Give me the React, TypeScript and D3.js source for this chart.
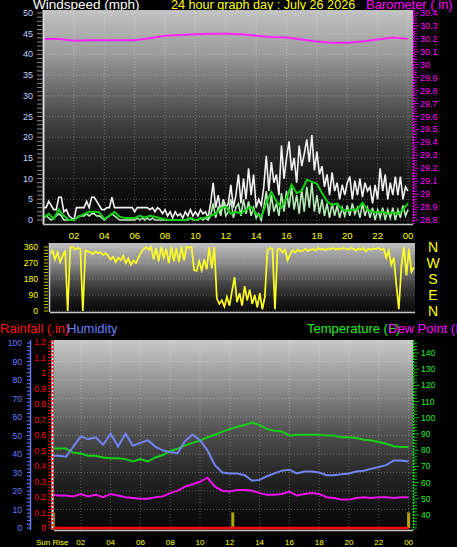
import React from "react";
import * as d3 from "d3";

const W = 457;
const H = 547;
const FONT = "'Liberation Sans', Arial, Helvetica, sans-serif";

// ---------- axis labels ----------
const hourTicks = [2, 4, 6, 8, 10, 12, 14, 16, 18, 20, 22, 24];
const hourLabels = ["02", "04", "06", "08", "10", "12", "14", "16", "18", "20", "22", "00"];
const windTicks = [0, 5, 10, 15, 20, 25, 30, 35, 40, 45, 50];
const baroTicks = [28.8, 28.9, 29, 29.1, 29.2, 29.3, 29.4, 29.5, 29.6, 29.7, 29.8, 29.9, 30, 30.1, 30.2, 30.3, 30.4];
const dirTicks = [0, 90, 180, 270, 360];
const compassLabels = ["N", "W", "S", "E", "N"];
const humTicks = [0, 10, 20, 30, 40, 50, 60, 70, 80, 90, 100];
const rainTicks = [0, 0.1, 0.2, 0.3, 0.4, 0.5, 0.6, 0.7, 0.8, 0.9, 1, 1.1, 1.2];
const tempTicks = [40, 50, 60, 70, 80, 90, 100, 110, 120, 130, 140];

// ---------- series (evenly spaced over 24 h) ----------
// wind gust, 10-minute samples
const gust = [
  3, 3, 4.5, 3.5, 2.5, 2.5, 5.5, 5.5, 2, 2.5, 1, 0.5,
  0, 3, 3, 3, 3, 4.5, 3, 5.5, 5.5, 4.5, 3.5, 2.5,
  2.5, 3, 3, 5.5, 3, 3, 3, 3, 3, 3, 3, 3,
  2, 3, 3, 3, 3, 3, 2.5, 3, 2, 3, 2.5, 1.5,
  2.5, 1, 2, 0.5, 2, 1, 1.5, 0.5, 2, 1, 2.5, 1,
  2, 1, 2.5, 1.5, 2, 0.5, 4, 9, 3, 6, 2, 5,
  3, 4, 8.5, 3, 6, 11, 4, 10, 5, 12.5, 6, 11,
  3, 5, 3.5, 8, 15.5, 7, 14, 9, 11, 6, 18, 10,
  15, 19, 12, 15, 9, 18, 13, 16, 19.5, 14, 20.5, 12,
  16.5, 11, 13, 8, 11, 6, 11.5, 7, 9, 5, 8.5, 6,
  9, 10.5, 5, 9.5, 6, 10, 5.5, 9, 7, 8, 4, 8.5,
  5, 12.5, 7, 11, 5, 9, 6, 10.5, 6, 10.5, 5, 8,
  7,
];
// wind speed, 10-minute samples
const speed = [
  0.5, 1, 0.5, 0, 0.5, 1, 1.5, 1, 0, 0, 0, 0,
  0, 0.5, 1, 1, 1, 1.5, 1, 1.5, 1.5, 1, 1, 0.5,
  0, 0.5, 1, 1.5, 1, 0.5, 0, 0, 0, 0, 0, 0,
  0, 0.5, 0, 0.5, 0, 0.5, 0, 0.5, 0, 0, 0, 0,
  0, 0, 0, 0, 0, 0, 0, 0, 0, 0, 0.5, 0,
  0, 0, 0.5, 0, 0.5, 0, 1, 4, 0.5, 3, 1, 4.5,
  1, 2, 5, 0.5, 3, 4, 1, 5, 1.5, 4.5, 1, 3,
  0.5, 1.5, 0, 3, 7, 1, 6, 2, 4, 1, 6.5, 2,
  7, 3, 8, 2.5, 6, 1.5, 7.5, 2, 8, 3, 9, 2,
  6, 1.5, 5, 1, 4, 0.5, 4, 1, 3.5, 0.5, 3, 1,
  3.5, 1, 4, 1.5, 3, 0.5, 4, 1, 3, 0.5, 3, 0,
  2.5, 0.5, 3, 0, 2.5, 0.5, 3, 0, 2.5, 0.5, 3.5, 1,
  2.5,
];
// average wind, 20-minute samples
const avgWind = [
  0.5, 1.5, 0.3, 2.5, 1, 0,
  0, 0.8, 1.5, 2, 2, 1.8,
  0.3, 1, 2, 0.8, 0.5, 0.5,
  0.5, 1, 0.6, 1, 0.8, 0.5,
  0.2, 0, 0, 0, 0, 0.5,
  0, 0.3, 0.6, 1, 1.5, 2.8,
  3.2, 1.5, 2, 1.5, 2.5, 3.2,
  1.5, 0.8, 4, 6.8, 4.5, 3,
  5.3, 8.5, 6.5, 7, 9.7, 9.2,
  8.8, 6.5, 4.5, 3.6, 4, 2.5,
  2.2, 2.5, 2.6, 4.2, 2.5, 2,
  1.8, 2, 1.5, 1.8, 1.5, 2.5,
  4,
];
// barometer, hourly
const barometer = [
  30.2, 30.2, 30.185, 30.19, 30.19, 30.19, 30.19, 30.205, 30.225, 30.23, 30.235, 30.24,
  30.24, 30.235, 30.225, 30.215, 30.21, 30.195, 30.18, 30.17, 30.17, 30.18, 30.195, 30.21,
  30.2,
];
// wind direction, 10-minute samples
const windDir = [
  320, 340, 290, 330, 275, 310, 340, 0, 355, 360, 345, 355,
  350, 0, 340, 335, 330, 320, 335, 325, 330, 315, 325, 310,
  290, 305, 275, 300, 285, 310, 270, 295, 260, 285, 270, 300,
  330, 350, 360, 345, 360, 290, 355, 280, 360, 300, 350, 270,
  360, 280, 355, 275, 360, 285, 360, 355, 360, 230, 225, 280,
  230, 290, 235, 360, 240, 360, 70, 40, 60, 25, 80, 30,
  110, 190, 50, 100, 30, 140, 60, 120, 40, 90, 20, 100,
  10, 80, 340, 355, 350, 10, 345, 350, 330, 345, 285, 320,
  340, 330, 345, 335, 340, 350, 338, 345, 350, 340, 355, 345,
  350, 342, 352, 348, 355, 345, 352, 348, 355, 350, 345, 355,
  350, 340, 352, 345, 355, 335, 350, 345, 352, 348, 355, 345,
  350, 300, 340, 260, 300, 150, 10, 250, 360, 200, 350, 220,
  245,
];
// humidity, temperature, dew point: 30-minute samples
const humidity = [
  39, 39, 38.5, 44, 49.5, 48, 49, 45, 51, 44, 51, 44.5,
  46, 47.5, 44, 42, 41, 40.5, 47, 50.5, 47.5, 42, 34, 30,
  29.5, 29.5, 28.5, 25.5, 26, 28, 29.5, 31, 31.5, 29.5, 30.5, 30.5,
  30, 28.5, 28.5, 29, 29.5, 30.5, 31, 32, 33, 34, 36.5, 36.5,
  36,
];
const temperature = [
  81, 81, 81, 78.5, 78, 76.5, 76.5, 75.5, 75, 75, 74.5, 73,
  74.5, 73, 75.5, 77, 79.5, 81, 83, 84.5, 86, 88, 89.5, 91.5,
  93, 94.5, 95.5, 97, 95.5, 93, 92, 91.5, 89, 89.5, 89.5, 89.5,
  89.5, 89, 89, 88, 88, 87.5, 86.5, 86, 85, 84, 82.5, 82,
  82,
];
const dewPoint = [
  52.5, 52, 52, 51.5, 53, 51.5, 52.5, 51, 53, 52, 51, 50.5,
  50, 50, 51, 51.5, 53.5, 55, 57.5, 59, 60.5, 63, 57.5, 55,
  54.5, 55.5, 55.5, 55, 53.5, 52.5, 52.5, 53, 54.5, 52, 53, 53.5,
  53, 51, 50.5, 49.5, 49.5, 50.5, 51, 50.5, 51, 51, 50.5, 51,
  51,
];
// rainfall, hourly
const rainfall = [0, 0, 0, 0, 0, 0, 0, 0, 0, 0, 0, 0, 0, 0, 0, 0, 0, 0, 0, 0, 0, 0, 0, 0, 0];
// yellow marker bars (hour, height in rain units)
const markerHours = [0.15, 12.2, 24];
const markerLevels = [0.1, 0.1, 0.1];

// ---------- helpers ----------
const timesFor = (n: number) => d3.range(n).map((i) => (i * 24) / (n - 1));

// ---------- geometry ----------
const TOP = { x0: 43, x1: 413, y0: 10, y1: 224 };
const DIR = { x0: 50, x1: 415, y0: 243, y1: 312 };
const BOT = { x0: 54, x1: 413, y0: 340, y1: 530 };

const xTop = d3.scaleLinear().domain([0, 24]).range([43.6, 408]);
const yWind = d3.scaleLinear().domain([0, 50]).range([220, 13]);
const yBaro = d3.scaleLinear().domain([28.8, 30.4]).range([220, 13]);

const xDir = d3.scaleLinear().domain([0, 24]).range([50, 414]);
const yDir = d3.scaleLinear().domain([0, 360]).range([311, 247]);

const xBot = d3.scaleLinear().domain([0, 24]).range([51, 408.6]);
const yHum = d3.scaleLinear().domain([0, 100]).range([528, 343]);
const yRain = d3.scaleLinear().domain([0, 1.2]).range([528, 342]);
const yTemp = d3.scaleLinear().domain([40, 140]).range([515, 353]);

function pathFor(vals: number[], x: d3.ScaleLinear<number, number>, y: d3.ScaleLinear<number, number>) {
  const t = timesFor(vals.length);
  const line = d3
    .line<number>()
    .x((_, i) => x(t[i]))
    .y((v) => y(v));
  return line(vals) || "";
}

const fmt = (v: number) => String(+v.toFixed(2));

export default function App() {
  const gridStyle = { stroke: "#ffffff", strokeOpacity: 0.28, strokeDasharray: "1,2", strokeWidth: 1 };
  const windMinor = d3.range(0, 51, 1);
  const baroMinor = d3.range(0, 81, 1).map((i) => 28.8 + i * 0.02);
  const dirMinor = d3.range(0, 361, 18);
  const humMinor = d3.range(0, 101, 2);
  const rainMinor = d3.range(0, 61, 1).map((i) => i * 0.02);
  const tempMinor = d3.range(32, 148, 2);

  return (
    <svg
      width={W}
      height={H}
      style={{ position: "absolute", left: 0, top: 0, display: "block" }}
      fontFamily={FONT}
    >
      <defs>
        <linearGradient id="gTop" x1="0" y1="0" x2="0" y2="1">
          <stop offset="0" stopColor="#c2c2c2" />
          <stop offset="0.2" stopColor="#9c9c9c" />
          <stop offset="0.37" stopColor="#6c6c6c" />
          <stop offset="0.5" stopColor="#474747" />
          <stop offset="0.65" stopColor="#272727" />
          <stop offset="0.85" stopColor="#0f0f0f" />
          <stop offset="1" stopColor="#050505" />
        </linearGradient>
        <linearGradient id="gDir" x1="0" y1="0" x2="0" y2="1">
          <stop offset="0" stopColor="#c0c0c0" />
          <stop offset="0.3" stopColor="#8a8a8a" />
          <stop offset="0.55" stopColor="#4c4c4c" />
          <stop offset="0.8" stopColor="#1e1e1e" />
          <stop offset="1" stopColor="#080808" />
        </linearGradient>
        <linearGradient id="gBot" x1="0" y1="0" x2="0" y2="1">
          <stop offset="0" stopColor="#c8c8c8" />
          <stop offset="0.25" stopColor="#8e8e8e" />
          <stop offset="0.48" stopColor="#525252" />
          <stop offset="0.7" stopColor="#272727" />
          <stop offset="1" stopColor="#040404" />
        </linearGradient>
        <clipPath id="cTop">
          <rect x={TOP.x0} y={TOP.y0} width={TOP.x1 - TOP.x0} height={TOP.y1 - TOP.y0} />
        </clipPath>
        <clipPath id="cDir">
          <rect x={DIR.x0} y={DIR.y0} width={DIR.x1 - DIR.x0} height={DIR.y1 - DIR.y0} />
        </clipPath>
        <clipPath id="cBot">
          <rect x={BOT.x0} y={BOT.y0} width={BOT.x1 - BOT.x0} height={BOT.y1 - BOT.y0} />
        </clipPath>
      </defs>
      <rect x={0} y={0} width={W} height={H} fill="#000" />

      {/* ================= TOP PANEL ================= */}
      <text x={33} y={9} fill="#ffffff" fontSize={13.5}>Windspeed (mph)</text>
      <text x={171} y={9} fill="#ffff00" fontSize={12.6}>24 hour graph day : July 26 2026</text>
      <text x={366} y={9} fill="#ff00ff" fontSize={13}>Barometer ( in)</text>

      <rect x={TOP.x0} y={TOP.y0} width={TOP.x1 - TOP.x0} height={TOP.y1 - TOP.y0} fill="url(#gTop)" />
      {windTicks.map((v) => (
        <line key={"wg" + v} x1={TOP.x0} x2={TOP.x1} y1={yWind(v)} y2={yWind(v)} {...gridStyle} />
      ))}
      {hourTicks.map((h) => (
        <line key={"hg" + h} x1={xTop(h)} x2={xTop(h)} y1={TOP.y0} y2={TOP.y1} {...gridStyle} />
      ))}
      <g clipPath="url(#cTop)">
        <path d={pathFor(barometer, xTop, yBaro)} fill="none" stroke="#ff22ff" strokeWidth={2} />
        <path d={pathFor(gust, xTop, yWind)} fill="none" stroke="#f2f2f2" strokeWidth={1.6} />
        <path d={pathFor(speed, xTop, yWind)} fill="none" stroke="#b4ecb4" strokeWidth={1.6} />
        <path d={pathFor(avgWind, xTop, yWind)} fill="none" stroke="#10d010" strokeWidth={2} />
      </g>
      {/* left axis */}
      <line x1={43.5} x2={43.5} y1={TOP.y0} y2={TOP.y1} stroke="#d8d8d8" strokeWidth={2} />
      {windMinor.map((v) => (
        <line key={"wm" + v} x1={37} x2={42} y1={yWind(v)} y2={yWind(v)} stroke="#8a8a8a" strokeWidth={1} />
      ))}
      {windTicks.map((v) => (
        <text key={"wl" + v} x={33} y={yWind(v) + 3} fill="#c4d4ff" fontSize={9} textAnchor="end">
          {v}
        </text>
      ))}
      {/* right barometer axis */}
      <line x1={413.5} x2={413.5} y1={TOP.y0} y2={TOP.y1} stroke="#ff00ff" strokeWidth={1.5} strokeDasharray="2,1" />
      {baroMinor.map((v, i) => (
        <line key={"bm" + i} x1={414} x2={i % 5 === 0 ? 419 : 417} y1={yBaro(v)} y2={yBaro(v)} stroke="#cc00cc" strokeWidth={1} />
      ))}
      {baroTicks.map((v) => (
        <text key={"bl" + v} x={420} y={yBaro(v) + 3} fill="#ff00ff" fontSize={9}>
          {fmt(v)}
        </text>
      ))}
      <line x1={TOP.x0} x2={TOP.x1} y1={224.5} y2={224.5} stroke="#c8c8c8" strokeWidth={1.5} />
      {hourTicks.map((h, i) => (
        <text key={"hl" + h} x={xTop(h)} y={239} fill="#ffff00" fontSize={9.5} textAnchor="middle">
          {hourLabels[i]}
        </text>
      ))}

      {/* ================= WIND DIRECTION PANEL ================= */}
      <rect x={DIR.x0} y={DIR.y0} width={DIR.x1 - DIR.x0} height={DIR.y1 - DIR.y0} fill="url(#gDir)" />
      {dirTicks.map((v) => (
        <line key={"dg" + v} x1={DIR.x0} x2={DIR.x1} y1={yDir(v)} y2={yDir(v)} {...gridStyle} />
      ))}
      <g clipPath="url(#cDir)">
        <path d={pathFor(windDir, xDir, yDir)} fill="none" stroke="#ffff22" strokeWidth={1.7} />
      </g>
      <line x1={49.5} x2={49.5} y1={DIR.y0} y2={DIR.y1} stroke="#d0d0d0" strokeWidth={1.5} />
      <line x1={DIR.x0} x2={DIR.x1} y1={312.5} y2={312.5} stroke="#c8c8c8" strokeWidth={1.5} />
      {dirMinor.map((v) => (
        <line key={"dm" + v} x1={44} x2={48} y1={yDir(v)} y2={yDir(v)} stroke="#c8c800" strokeWidth={1} />
      ))}
      {dirTicks.map((v) => (
        <text key={"dl" + v} x={38} y={yDir(v) + 3} fill="#ffff00" fontSize={8.5} textAnchor="end">
          {v}
        </text>
      ))}
      {dirTicks.map((v, i) => (
        <text key={"cl" + i} x={433} y={yDir(v) + 5} fill="#ffff00" fontSize={14} textAnchor="middle">
          {compassLabels[compassLabels.length - 1 - i]}
        </text>
      ))}

      {/* ================= BOTTOM PANEL ================= */}
      <text x={0} y={333} fill="#ff1010" fontSize={13}>Rainfall (.in)</text>
      <text x={67} y={333} fill="#6c7cff" fontSize={13}>Humidity</text>
      <text x={307} y={333} fill="#22ee22" fontSize={13}>Temperature (F)</text>
      <text x={388} y={333} fill="#ff00ff" fontSize={13}>Dew Point (F)</text>

      <rect x={BOT.x0} y={BOT.y0} width={BOT.x1 - BOT.x0} height={BOT.y1 - BOT.y0} fill="url(#gBot)" />
      {humTicks.map((v) => (
        <line key={"ug" + v} x1={BOT.x0} x2={BOT.x1} y1={yHum(v)} y2={yHum(v)} {...gridStyle} />
      ))}
      {hourTicks.map((h) => (
        <line key={"bg" + h} x1={xBot(h)} x2={xBot(h)} y1={BOT.y0} y2={BOT.y1} {...gridStyle} />
      ))}
      <g clipPath="url(#cBot)">
        {markerHours.map((h, i) => (
          <rect
            key={"mk" + i}
            x={xBot(h) - 1.5}
            y={yRain(markerLevels[i])}
            width={3}
            height={yRain(0) - yRain(markerLevels[i])}
            fill="#b0a800"
          />
        ))}
        <path d={pathFor(temperature, xBot, yTemp)} fill="none" stroke="#16d016" strokeWidth={2} />
        <path d={pathFor(humidity, xBot, yHum)} fill="none" stroke="#7484f4" strokeWidth={2} />
        <path d={pathFor(dewPoint, xBot, yTemp)} fill="none" stroke="#ee10ee" strokeWidth={2} />
        <path d={pathFor(rainfall, xBot, yRain)} fill="none" stroke="#ff0000" strokeWidth={2.5} />
      </g>
      {/* humidity axis */}
      <line x1={30.5} x2={30.5} y1={BOT.y0} y2={BOT.y1} stroke="#6c7cff" strokeWidth={1.5} />
      {humMinor.map((v) => (
        <line key={"um" + v} x1={27} x2={30} y1={yHum(v)} y2={yHum(v)} stroke="#6c7cff" strokeWidth={1} />
      ))}
      {humTicks.map((v) => (
        <text key={"ul" + v} x={22} y={yHum(v) + 3} fill="#6c7cff" fontSize={8.5} textAnchor="end">
          {v}
        </text>
      ))}
      {/* rain axis */}
      <line x1={52.5} x2={52.5} y1={BOT.y0} y2={BOT.y1} stroke="#ffffff" strokeWidth={2} />
      <line x1={52.5} x2={52.5} y1={BOT.y0} y2={BOT.y1} stroke="#ff2020" strokeWidth={2} strokeDasharray="2,2" />
      {rainMinor.map((v, i) => (
        <line key={"rm" + i} x1={48} x2={51} y1={yRain(v)} y2={yRain(v)} stroke="#dd0000" strokeWidth={1} />
      ))}
      {rainTicks.map((v) => (
        <text key={"rl" + v} x={46} y={yRain(v) + 3} fill="#ff0000" fontSize={8.5} textAnchor="end">
          {fmt(v)}
        </text>
      ))}
      {/* temperature axis */}
      <line x1={413.5} x2={413.5} y1={BOT.y0} y2={BOT.y1} stroke="#20dd20" strokeWidth={1.5} strokeDasharray="2,1" />
      {tempMinor.map((v) => (
        <line key={"tm" + v} x1={414} x2={v % 10 === 0 ? 419 : 417} y1={yTemp(v)} y2={yTemp(v)} stroke="#10c010" strokeWidth={1} />
      ))}
      {tempTicks.map((v) => (
        <text key={"tl" + v} x={421} y={yTemp(v) + 3} fill="#22ee22" fontSize={8.5}>
          {v}
        </text>
      ))}
      <line x1={BOT.x0} x2={BOT.x1} y1={530.5} y2={530.5} stroke="#c8c8c8" strokeWidth={1.5} />
      <text x={36} y={545} fill="#ffff00" fontSize={8}>Sun Rise</text>
      {hourTicks.map((h, i) => (
        <text key={"bl" + h} x={xBot(h)} y={545} fill="#ffff00" fontSize={8} textAnchor="middle">
          {hourLabels[i]}
        </text>
      ))}
    </svg>
  );
}
